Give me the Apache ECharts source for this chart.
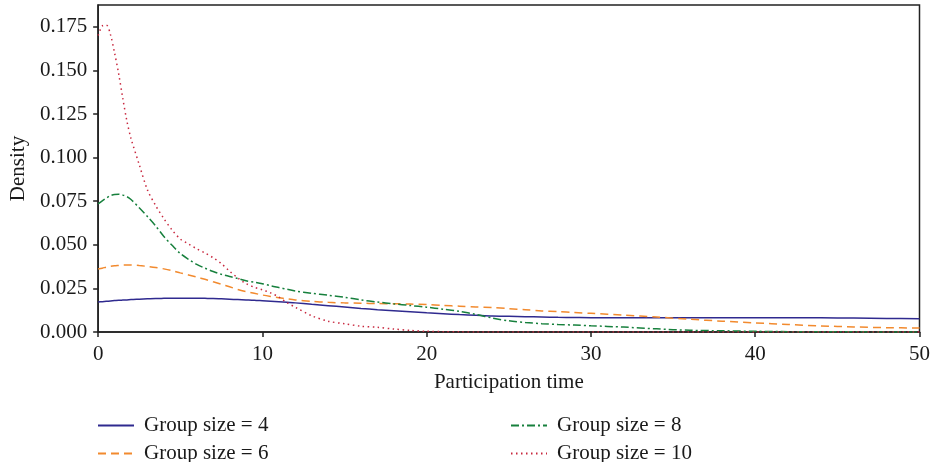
<!DOCTYPE html>
<html>
<head>
<meta charset="utf-8">
<script src="https://cdn.jsdelivr.net/npm/echarts@6/dist/echarts.min.js"></script>
<style>
  html, body { margin: 0; padding: 0; background: #fff; }
  #chart { width: 933px; height: 462px; }
</style>
</head>
<body>
<div id="chart"></div>
<script>
// participation time grid (shared by all curves)
const times = [
  0, 0.25, 0.5, 0.75, 1, 1.25, 1.5, 1.75, 2,
  2.5, 3, 3.5, 4, 4.5, 5, 5.5, 6, 6.5, 7, 7.5, 8, 8.5, 9, 9.5, 10, 10.5, 11, 11.5, 12,
  13, 14, 15, 16, 17, 18, 19, 20, 21, 22, 23, 24, 25, 26, 27, 28, 29, 30,
  32, 34, 36, 38, 40, 42, 44, 46, 48, 50
]

// density, one array per group size
const size4 = [
  0.0172, 0.0174, 0.0176, 0.0178, 0.0180, 0.0182, 0.0183, 0.0184, 0.0186,
  0.0188, 0.0190, 0.0192, 0.0193, 0.0194, 0.0194, 0.0194, 0.0194, 0.0193, 0.0192, 0.0190, 0.0188, 0.0186, 0.0184, 0.0182, 0.0179, 0.0176, 0.0173, 0.0170, 0.0167,
  0.0159, 0.0151, 0.0143, 0.0135, 0.0128, 0.0122, 0.0116, 0.0110, 0.0105, 0.0100, 0.0096, 0.0092, 0.0090, 0.0088, 0.0086, 0.0084, 0.0083, 0.0082,
  0.0082, 0.0082, 0.0082, 0.0082, 0.0082, 0.0081, 0.0081, 0.0080, 0.0078, 0.0076
]
const size6 = [
  0.0361, 0.0366, 0.0372, 0.0377, 0.0380, 0.0382, 0.0384, 0.0384, 0.0384,
  0.0381, 0.0376, 0.0370, 0.0362, 0.0352, 0.0339, 0.0327, 0.0315, 0.0302, 0.0288, 0.0274, 0.0259, 0.0244, 0.0232, 0.0222, 0.0212, 0.0204, 0.0197, 0.0190, 0.0184,
  0.0176, 0.0170, 0.0167, 0.0165, 0.0163, 0.0162, 0.0160, 0.0157, 0.0152, 0.0148, 0.0144, 0.0140, 0.0134, 0.0128, 0.0121, 0.0117, 0.0112, 0.0107,
  0.0097, 0.0086, 0.0073, 0.0062, 0.0052, 0.0043, 0.0035, 0.0029, 0.0025, 0.0023
]
const size8 = [
  0.0735, 0.0752, 0.0768, 0.0782, 0.0789, 0.0790, 0.0785, 0.0776, 0.0760,
  0.0712, 0.0662, 0.0608, 0.0548, 0.0497, 0.0450, 0.0417, 0.0388, 0.0366, 0.0347, 0.0331, 0.0318, 0.0307, 0.0294, 0.0286, 0.0277, 0.0265, 0.0255, 0.0245, 0.0235,
  0.0222, 0.0211, 0.0199, 0.0184, 0.0172, 0.0161, 0.0152, 0.0142, 0.0131, 0.0118, 0.0101, 0.0080, 0.0064, 0.0055, 0.0048, 0.0043, 0.0040, 0.0036,
  0.0028, 0.0018, 0.0010, 0.0007, 0.0004, 0.0002, 0.0001, 0.0001, 0.0000, 0.0000
]
const size10 = [
  0.1700, 0.1755, 0.1760, 0.1705, 0.1600, 0.1480, 0.1340, 0.1210, 0.1110,
  0.0960, 0.0815, 0.0725, 0.0650, 0.0585, 0.0533, 0.0505, 0.0477, 0.0453, 0.0426, 0.0392, 0.0349, 0.0310, 0.0278, 0.0257, 0.0242, 0.0224, 0.0200, 0.0168, 0.0142,
  0.0093, 0.0062, 0.0047, 0.0033, 0.0027, 0.0017, 0.0009, 0.0004, 0.0002, 0.0001, 0, 0, 0, 0, 0, 0, 0, 0,
  0, 0, 0, 0, 0, 0, 0, 0, 0, 0
]
const seriesNames = ['Group size = 4', 'Group size = 6', 'Group size = 8', 'Group size = 10']
const yTicks = ['0.000', '0.025', '0.050', '0.075', '0.100', '0.125', '0.150', '0.175']

const font = 'Liberation Serif'
const txt = '#1a1a1a'

const myChart = echarts.init(document.getElementById('chart'))

function mkLine(name, values, color, type) {
  return {
    name: name,
    type: 'line',
    data: times.map((t, i) => [t, values[i]]),
    smooth: 0.3,
    symbol: 'none',
    lineStyle: { color: color, width: 1.5, type: type },
    itemStyle: { color: color },
  }
}

// one legend box per entry, laid out as 2 columns x 2 rows
function mkLegend(name, left, top) {
  return {
    data: [name],
    left: left,
    top: top,
    itemWidth: 36,
    itemHeight: 14,
    itemGap: 0,
    itemStyle: { opacity: 0 },
    textStyle: { fontFamily: font, fontSize: 21, color: txt, padding: [0, 0, 0, 5] },
  }
}

myChart.setOption({
  animation: false,
  grid: {
    left: 97,
    right: 10,
    top: 5,
    bottom: 130,
    show: true,
    borderColor: '#222',
    borderWidth: 1.5,
  },
  xAxis: {
    type: 'value',
    min: 0,
    max: 50,
    interval: 10,
    name: 'Participation time',
    nameLocation: 'middle',
    nameGap: 40,
    nameTextStyle: { fontFamily: font, fontSize: 21, color: txt },
    axisLine: { show: true, lineStyle: { color: '#222', width: 1.5 } },
    axisTick: { show: true, length: 5, lineStyle: { color: '#222', width: 1.5 } },
    axisLabel: { fontFamily: font, fontSize: 21, color: txt, margin: 12 },
    splitLine: { show: false },
  },
  yAxis: {
    type: 'value',
    min: 0,
    max: 0.1875,
    interval: 0.025,
    name: 'Density',
    nameLocation: 'middle',
    nameGap: 69,
    nameTextStyle: { fontFamily: font, fontSize: 21, color: txt },
    axisLine: { show: true, lineStyle: { color: '#222', width: 1.5 } },
    axisTick: { show: true, length: 5, lineStyle: { color: '#222', width: 1.5 } },
    axisLabel: {
      fontFamily: font,
      fontSize: 21,
      color: txt,
      margin: 11,
      showMaxLabel: false,
      formatter: function (v) {
        const i = Math.round(v / 0.025)
        return Math.abs(v - i * 0.025) < 1e-9 && yTicks[i] ? yTicks[i] : ''
      },
    },
    splitLine: { show: false },
  },
  legend: [
    mkLegend(seriesNames[0], 92, 410),
    mkLegend(seriesNames[1], 92, 438),
    mkLegend(seriesNames[2], 505, 410),
    mkLegend(seriesNames[3], 505, 438),
  ],
  series: [
    mkLine(seriesNames[0], size4, '#2f2a8f', 'solid'),
    mkLine(seriesNames[1], size6, '#f28a2e', [8, 5]),
    mkLine(seriesNames[2], size8, '#17803d', [8, 3, 2, 3]),
    mkLine(seriesNames[3], size10, '#c8283f', [1.5, 3.5]),
  ],
})
</script>
</body>
</html>
